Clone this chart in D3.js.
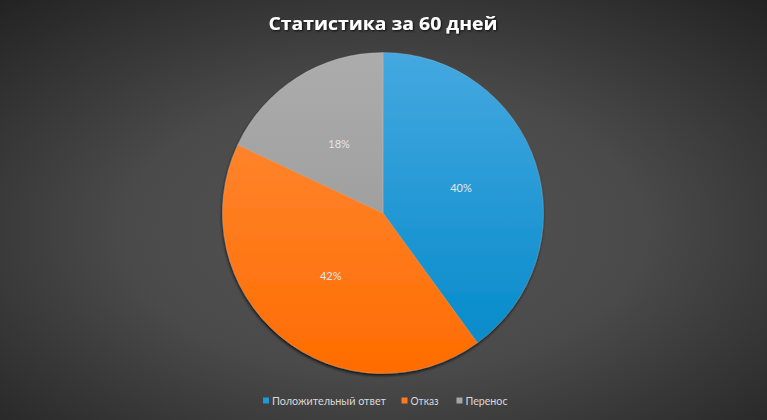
<!DOCTYPE html>
<html>
<head>
<meta charset="utf-8">
<script src="https://cdn.jsdelivr.net/npm/d3@7"></script>
<style>
html,body{margin:0;padding:0;background:#3a3a3a;}
svg{display:block;}
</style>
</head>
<body>
<svg id="chart" width="767" height="420"></svg>
<script>
const categories = ["Положительный ответ", "Отказ", "Перенос"];
const values = [40, 42, 18];
const colorsTop = ["#45a8e0", "#ff8d3d", "#acacac"];
const colorsBottom = ["#0088c8", "#ff6c00", "#939393"];
const legendColors = ["#1a9ad6", "#ff7a1a", "#a5a5a5"];
const title = "Статистика за 60 дней";

const W = 767, H = 420;
const cx = 383, cy = 213, R = 160.5;

const svg = d3.select("#chart");
const defs = svg.append("defs");

const bg = defs.append("radialGradient").attr("id", "bg")
  .attr("cx", "50%").attr("cy", "55%").attr("r", "75%");
bg.append("stop").attr("offset", "0%").attr("stop-color", "#545454");
bg.append("stop").attr("offset", "45%").attr("stop-color", "#4a4a4a");
bg.append("stop").attr("offset", "100%").attr("stop-color", "#222222");
svg.append("rect").attr("width", W).attr("height", H).attr("fill", "url(#bg)");

categories.forEach((c, i) => {
  const g = defs.append("linearGradient").attr("id", "g" + i)
    .attr("gradientUnits", "userSpaceOnUse")
    .attr("x1", 0).attr("y1", -R).attr("x2", 0).attr("y2", R);
  g.append("stop").attr("offset", "0%").attr("stop-color", colorsTop[i]);
  g.append("stop").attr("offset", "100%").attr("stop-color", colorsBottom[i]);
});

const f = defs.append("filter").attr("id", "shadow")
  .attr("x", "-10%").attr("y", "-10%").attr("width", "120%").attr("height", "125%");
f.append("feDropShadow").attr("dx", -0.5).attr("dy", 2).attr("stdDeviation", 1.6)
  .attr("flood-color", "#000").attr("flood-opacity", 0.75);

const tf = defs.append("filter").attr("id", "tshadow")
  .attr("x", "-10%").attr("y", "-30%").attr("width", "120%").attr("height", "160%");
tf.append("feDropShadow").attr("dx", 1).attr("dy", 1).attr("stdDeviation", 1)
  .attr("flood-color", "#000").attr("flood-opacity", 0.8);

svg.append("text")
  .attr("x", cx).attr("y", 30)
  .attr("text-anchor", "middle")
  .attr("fill", "#ffffff")
  .attr("font-family", "'Open Sans', 'DejaVu Sans', sans-serif")
  .attr("font-weight", "bold")
  .attr("font-size", 18)
  .attr("filter", "url(#tshadow)")
  .attr("textLength", 229).attr("lengthAdjust", "spacingAndGlyphs")
  .text(title);

const pie = d3.pie().sort(null).value(d => d)(values);
const arc = d3.arc().innerRadius(0).outerRadius(R);
const labelArc = d3.arc().innerRadius(82).outerRadius(82);

const g = svg.append("g").attr("transform", `translate(${cx},${cy})`);
g.append("g").attr("filter", "url(#shadow)")
  .selectAll("path").data(pie).join("path")
  .attr("d", arc)
  .attr("fill", (d, i) => "url(#g" + i + ")")
  .attr("stroke", "rgba(220,220,220,0.35)")
  .attr("stroke-width", 0.6);

const total = d3.sum(values);
g.selectAll("text.lbl").data(pie).join("text")
  .attr("class", "lbl")
  .attr("transform", d => `translate(${labelArc.centroid(d)})`)
  .attr("text-anchor", "middle")
  .attr("dy", "0.35em")
  .attr("fill", "#e6e6e6")
  .attr("font-family", "Lato, 'Open Sans', sans-serif")
  .attr("font-size", 11)
  .text(d => Math.round(d.data / total * 100) + "%");

const legendX = [263, 401.5, 456.5];
const legendW = [114, 28, 42];
const legend = svg.append("g");
categories.forEach((c, i) => {
  legend.append("rect")
    .attr("x", legendX[i]).attr("y", 397.5)
    .attr("width", 6).attr("height", 6)
    .attr("fill", legendColors[i]);
  legend.append("text")
    .attr("x", legendX[i] + 9).attr("y", 404.5)
    .attr("fill", "#d9d9d9")
    .attr("font-family", "Lato, 'Open Sans', sans-serif")
    .attr("font-size", 11.5)
    .attr("textLength", legendW[i]).attr("lengthAdjust", "spacingAndGlyphs")
    .text(c);
});
</script>
</body>
</html>
